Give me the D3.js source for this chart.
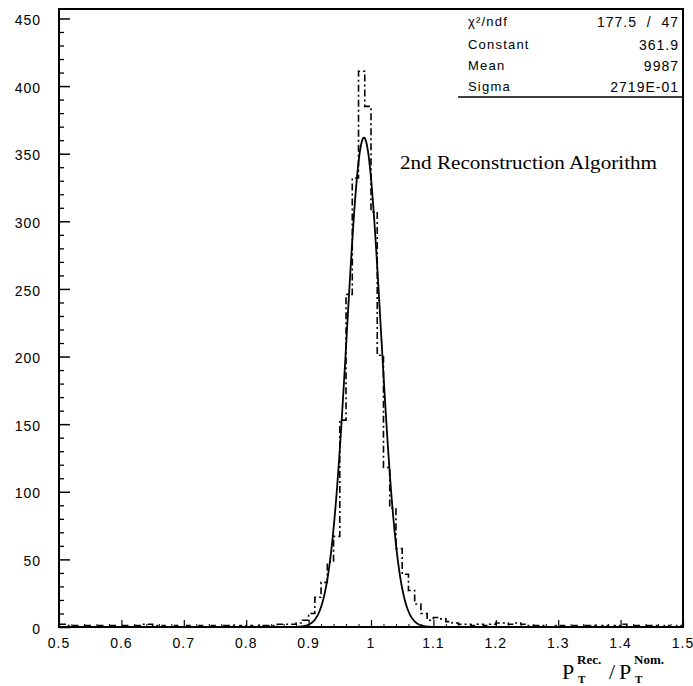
<!DOCTYPE html>
<html>
<head>
<meta charset="utf-8">
<script src="https://cdn.jsdelivr.net/npm/d3@7"></script>
<style>
  html, body { margin: 0; padding: 0; background: #fff; }
  svg { display: block; }
</style>
</head>
<body>
<svg id="chart" width="693" height="686"></svg>
<script>
// ---------------- DATA ----------------
// Histogram: 100 bins of width 0.01 from 0.50 to 1.50 (left edges)
const binEdgesStart = 0.5;
const binWidth = 0.01;
const counts = [
  2, 1, 1, 0, 1, 0, 1, 0, 1, 0,        // 0.50-0.59
  1, 0, 1, 2, 2, 1, 1, 0, 1, 0,        // 0.60-0.69
  1, 0, 1, 0, 1, 0, 1, 1, 0, 1,        // 0.70-0.79
  1, 0, 1, 1, 1, 2, 2, 2, 3, 5,        // 0.80-0.89
  10, 22, 33, 48, 67, 153, 246, 332, 411, 385,   // 0.90-0.99
  307, 201, 118, 88, 58, 39, 27, 17, 10, 5,      // 1.00-1.09
  7, 6, 4, 3, 2, 2, 1, 2, 1, 2,        // 1.10-1.19
  3, 3, 2, 3, 2, 1, 1, 1, 0, 1,        // 1.20-1.29
  1, 0, 1, 0, 1, 1, 0, 1, 0, 1,        // 1.30-1.39
  2, 0, 1, 0, 1, 1, 0, 1, 0, 1         // 1.40-1.49
];
// Gaussian fit parameters: constant, mean (as seen in the plot), sigma
const fitParams = [361.9, 0.9887, 0.02719];
const fitRange = [0.86, 1.13];

// Axis ticks & labels
const xTicks = [0.5, 0.6, 0.7, 0.8, 0.9, 1.0, 1.1, 1.2, 1.3, 1.4, 1.5];
const xTickLabels = ["0.5", "0.6", "0.7", "0.8", "0.9", "1", "1.1", "1.2", "1.3", "1.4", "1.5"];
const yTicks = [0, 50, 100, 150, 200, 250, 300, 350, 400, 450];
const yTickLabels = ["0", "50", "100", "150", "200", "250", "300", "350", "400", "450"];

// Stats box
const statLabels = ["\u03C7\u00B2/ndf", "Constant", "Mean", "Sigma"];
const statValues = ["177.5  /  47", "361.9", "9987", "2719E-01"];
const annotation = "2nd Reconstruction Algorithm";

// ---------------- LAYOUT ----------------
const frame = { left: 59, right: 683, top: 9, bottom: 627 };
const svg = d3.select("#chart");

const x = d3.scaleLinear().domain([0.5, 1.5]).range([frame.left, frame.right]);
const y = d3.scaleLinear().domain([0, 457]).range([frame.bottom, frame.top]);

const sans = "'Liberation Sans', Arial, sans-serif";
const serif = "'Liberation Serif', 'Times New Roman', serif";

// ---------------- HISTOGRAM ----------------
const histPts = [];
counts.forEach((c, i) => {
  const x0 = binEdgesStart + i * binWidth;
  const x1 = x0 + binWidth;
  histPts.push([x0, c]);
  histPts.push([x1, c]);
});
const histLine = d3.line().x(d => x(d[0])).y(d => y(d[1]));
svg.append("path")
  .attr("d", histLine(histPts))
  .attr("fill", "none")
  .attr("stroke", "#000")
  .attr("stroke-width", 1.6)
  .attr("stroke-dasharray", "7,3,2,3");

// ---------------- GAUSSIAN FIT ----------------
const [cst, mu, sg] = fitParams;
const fitPts = d3.range(fitRange[0], fitRange[1] + 1e-9, 0.001)
  .map(v => [v, cst * Math.exp(-0.5 * ((v - mu) / sg) ** 2)]);
svg.append("path")
  .attr("d", d3.line().x(d => x(d[0])).y(d => y(d[1])).curve(d3.curveLinear)(fitPts))
  .attr("fill", "none")
  .attr("stroke", "#000")
  .attr("stroke-width", 1.8);

// ---------------- AXES ----------------
// Y axis: ticks inside (to the right)
const yAxis = d3.axisRight(y)
  .tickValues(yTicks)
  .tickSize(11)
  .tickFormat("");
svg.append("g").attr("transform", `translate(${frame.left},0)`).call(yAxis)
  .call(g => g.select(".domain").remove())
  .call(g => g.selectAll("line").attr("stroke", "#000").attr("stroke-width", 1.5));
const yMinor = d3.axisRight(y)
  .tickValues(d3.range(0, 451, 10).filter(v => v % 50 !== 0))
  .tickSize(5)
  .tickFormat("");
svg.append("g").attr("transform", `translate(${frame.left},0)`).call(yMinor)
  .call(g => g.select(".domain").remove())
  .call(g => g.selectAll("line").attr("stroke", "#000").attr("stroke-width", 1.3));
svg.append("g").selectAll("text").data(yTicks).join("text")
  .attr("x", 41)
  .attr("y", d => y(d) + 3)
  .attr("text-anchor", "end")
  .attr("dominant-baseline", "middle")
  .attr("font-family", sans)
  .attr("font-size", 14)
  .attr("letter-spacing", 1)
  .text((d, i) => yTickLabels[i]);

// X axis: ticks inside (upwards)
const xAxis = d3.axisTop(x)
  .tickValues(xTicks)
  .tickSize(7)
  .tickFormat("");
svg.append("g").attr("transform", `translate(0,${frame.bottom})`).call(xAxis)
  .call(g => g.select(".domain").remove())
  .call(g => g.selectAll("line").attr("stroke", "#000").attr("stroke-width", 1.2));
const xMinor = d3.axisTop(x)
  .tickValues(d3.range(0.52, 1.5, 0.02).filter(v => Math.abs(v * 10 - Math.round(v * 10)) > 1e-6))
  .tickSize(3)
  .tickFormat("");
svg.append("g").attr("transform", `translate(0,${frame.bottom})`).call(xMinor)
  .call(g => g.select(".domain").remove())
  .call(g => g.selectAll("line").attr("stroke", "#000").attr("stroke-width", 1));
svg.append("g").selectAll("text").data(xTicks).join("text")
  .attr("x", d => x(d))
  .attr("y", 644)
  .attr("text-anchor", "middle")
  .attr("dominant-baseline", "middle")
  .attr("font-family", sans)
  .attr("font-size", 14)
  .attr("letter-spacing", 1)
  .text((d, i) => xTickLabels[i]);

// Frame
svg.append("rect")
  .attr("x", frame.left).attr("y", frame.top)
  .attr("width", frame.right - frame.left)
  .attr("height", frame.bottom - frame.top)
  .attr("fill", "none").attr("stroke", "#000").attr("stroke-width", 2);

// ---------------- STATS BOX ----------------
const statRowY = [23, 46, 67, 88];
svg.append("line")
  .attr("x1", 458).attr("x2", frame.right)
  .attr("y1", 97).attr("y2", 97)
  .attr("stroke", "#000").attr("stroke-width", 1.6);
svg.append("g").selectAll("text").data(statLabels).join("text")
  .attr("x", 468)
  .attr("y", (d, i) => statRowY[i])
  .attr("dominant-baseline", "middle")
  .attr("font-family", sans)
  .attr("font-size", 13)
  .attr("letter-spacing", 1.2)
  .text(d => d);
svg.append("g").selectAll("text").data(statValues).join("text")
  .attr("x", 679)
  .attr("y", (d, i) => statRowY[i])
  .attr("text-anchor", "end")
  .attr("dominant-baseline", "middle")
  .attr("font-family", sans)
  .attr("font-size", 14)
  .attr("letter-spacing", 1)
  .attr("xml:space", "preserve")
  .style("white-space", "pre")
  .text(d => d);

// ---------------- ANNOTATION ----------------
svg.append("text")
  .attr("x", 400).attr("y", 169)
  .attr("font-family", serif)
  .attr("font-size", 18)
  .attr("textLength", 257)
  .attr("lengthAdjust", "spacingAndGlyphs")
  .text(annotation);

// ---------------- X TITLE ----------------
const tg = svg.append("g").attr("font-family", serif).attr("fill", "#000");
const titleParts = [
  { t: "P", x: 562, y: 679, s: 22, w: "normal" },
  { t: "Rec.", x: 577, y: 664, s: 13, w: "bold" },
  { t: "T", x: 578, y: 683, s: 11, w: "bold" },
  { t: "/", x: 609, y: 679, s: 22, w: "normal" },
  { t: "P", x: 619, y: 679, s: 22, w: "normal" },
  { t: "Nom.", x: 634, y: 664, s: 13, w: "bold" },
  { t: "T", x: 635, y: 683, s: 11, w: "bold" }
];
tg.selectAll("text").data(titleParts).join("text")
  .attr("x", d => d.x).attr("y", d => d.y)
  .attr("font-size", d => d.s)
  .attr("font-weight", d => d.w)
  .text(d => d.t);
</script>
</body>
</html>
